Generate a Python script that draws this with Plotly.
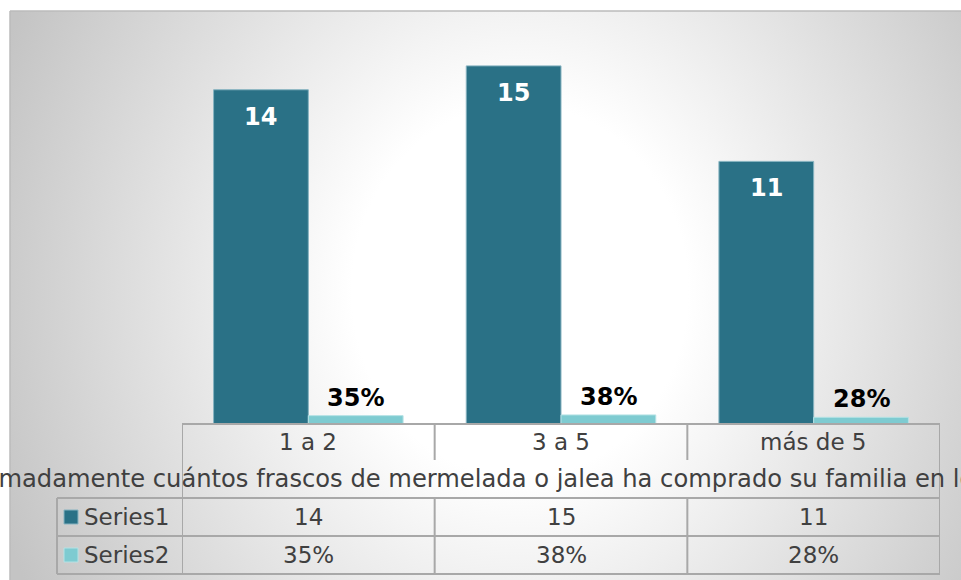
import base64
import plotly.graph_objects as go

# ---------------- data ----------------
categories = ["1 a 2", "3 a 5", "más de 5"]
series_names = ["Series1", "Series2"]
series1 = [14, 15, 11]
series2 = [0.35, 0.38, 0.28]
series1_text = ["14", "15", "11"]
series2_text = ["35%", "38%", "28%"]
axis_title = ("Aproximadamente cuántos frascos de mermelada o jalea ha comprado "
              "su familia en los últimos meses")

# ---------------- layout helpers ----------------
W, H = 961, 580
L, R, T, B = 182, 940, 42, 424          # plot area in pixels
YMAX = 16


def px(x):
    return (x - L) / (R - L)


def py(y):
    return (B - y) / (B - T)


colors = ["#2a7186", "#7ecbd1"]
outline = ["#86b3c0", "#b5e2e5"]
bargap = 0.25
FONT = "DejaVu Sans, Verdana, sans-serif"
TXT = "#404040"
GRID = "#a8a8a8"
FS = 23
FS_TITLE = 24.2
FS_LAB = 24

fig = go.Figure()
for name, vals, col, oc in zip(series_names, [series1, series2], colors, outline):
    fig.add_trace(go.Bar(x=categories, y=vals, name=name,
                         marker=dict(color=col, line=dict(color=oc, width=1)),
                         hoverinfo="skip"))

# background gradient (chart area)
ax0, ay0 = 10, 11
gw, gh = W - ax0, H - ay0
svg = f'''<svg xmlns="http://www.w3.org/2000/svg" width="{gw}" height="{gh}">
<defs><radialGradient id="g" gradientUnits="userSpaceOnUse" cx="0" cy="0" r="1"
gradientTransform="translate(510 280) scale(560 620)">
<stop offset="0" stop-color="#ffffff"/><stop offset="0.3" stop-color="#ffffff"/>
<stop offset="1" stop-color="#c4c4c4"/></radialGradient></defs>
<rect width="{gw}" height="{gh}" fill="url(#g)"/></svg>'''
src = "data:image/svg+xml;base64," + base64.b64encode(svg.encode()).decode()

shapes = []
annotations = []

# chart-area border (top + left)
shapes.append(dict(type="line", xref="paper", yref="paper", x0=px(ax0), x1=px(W + 5),
                   y0=py(ay0), y1=py(ay0), line=dict(color="#bbbbbb", width=1.5)))
shapes.append(dict(type="line", xref="paper", yref="paper", x0=px(ax0), x1=px(ax0),
                   y0=py(ay0), y1=py(H + 5), line=dict(color="#bbbbbb", width=1.5)))

n = len(categories)
ROW_CAT = (B, 460)
ROW_TITLE = (460, 498)
ROWS = [(498, 536), (536, 574)]
LEFT_COL = 57

line = dict(color=GRID, width=2)
# axis line / top of table
shapes.append(dict(type="line", xref="x", yref="paper", x0=-0.5, x1=n - 0.5,
                   y0=0, y1=0, line=line))
# category row verticals
for i in range(n + 1):
    shapes.append(dict(type="line", xref="x", yref="paper", x0=i - 0.5, x1=i - 0.5,
                       y0=py(ROW_CAT[0]), y1=py(ROW_CAT[1]), line=line))
# outer verticals through title row
for xv in (-0.5, n - 0.5):
    shapes.append(dict(type="line", xref="x", yref="paper", x0=xv, x1=xv,
                       y0=py(ROW_TITLE[0]), y1=py(ROW_TITLE[1]), line=line))
# data rows
for (y0, y1) in ROWS:
    for yy in (y0, y1):
        shapes.append(dict(type="line", xref="paper", yref="paper", x0=px(LEFT_COL),
                           x1=1, y0=py(yy), y1=py(yy), line=line))
    shapes.append(dict(type="line", xref="paper", yref="paper", x0=px(LEFT_COL),
                       x1=px(LEFT_COL), y0=py(y0), y1=py(y1), line=line))
    for i in range(n + 1):
        shapes.append(dict(type="line", xref="x", yref="paper", x0=i - 0.5, x1=i - 0.5,
                           y0=py(y0), y1=py(y1), line=line))


def text_ann(x, y, t, xref="paper", xanchor="center", size=FS, color=TXT, yshift=0,
             yref="paper"):
    return dict(x=x, y=y, xref=xref, yref=yref, text=t, showarrow=False,
                xanchor=xanchor, yanchor="middle", yshift=yshift,
                font=dict(family=FONT, size=size, color=color))


# category labels
for i, c in enumerate(categories):
    annotations.append(text_ann(i, py(442), c, xref="x"))
# axis title (clipped by the page like the original)
annotations.append(text_ann(px(-80), py(479), axis_title, xanchor="left", size=FS_TITLE))
# table rows
table_text = [series1_text, series2_text]
for (y0, y1), name, col, oc, texts in zip(ROWS, series_names, colors, outline, table_text):
    yc = (y0 + y1) / 2
    shapes.append(dict(type="rect", xref="paper", yref="paper", x0=px(64), x1=px(78),
                       y0=py(yc - 7), y1=py(yc + 7), fillcolor=col,
                       line=dict(color=oc, width=1)))
    annotations.append(text_ann(px(82), py(yc), name, xanchor="left"))
    for i, t in enumerate(texts):
        annotations.append(text_ann(i, py(yc), t, xref="x"))

# data labels on bars
half = (1 - bargap) / 4
for i, (v, t) in enumerate(zip(series1, series1_text)):
    annotations.append(text_ann(i - half, v, "<b>%s</b>" % t, xref="x", yref="y",
                                size=FS_LAB, color="white", yshift=-27))
for i, (v, t) in enumerate(zip(series2, series2_text)):
    annotations.append(text_ann(i + half, v, "<b>%s</b>" % t, xref="x", yref="y",
                                size=FS_LAB, color="black", yshift=18))

fig.update_layout(
    width=W, height=H,
    margin=dict(l=L, r=W - R, t=T, b=H - B, pad=0),
    paper_bgcolor="white", plot_bgcolor="rgba(0,0,0,0)",
    barmode="group", bargap=bargap, bargroupgap=0,
    showlegend=False,
    xaxis=dict(type="category", range=[-0.5, n - 0.5], showticklabels=False,
               showgrid=False, zeroline=False, showline=False, ticks="", fixedrange=True),
    yaxis=dict(range=[0, YMAX], visible=False, fixedrange=True),
    images=[dict(source=src, xref="paper", yref="paper", x=px(ax0), y=py(ay0),
                 sizex=gw / (R - L), sizey=gh / (B - T), sizing="stretch",
                 xanchor="left", yanchor="top", layer="below")],
    shapes=shapes, annotations=annotations,
)

fig.write_html("out.html", config={"displayModeBar": False})
